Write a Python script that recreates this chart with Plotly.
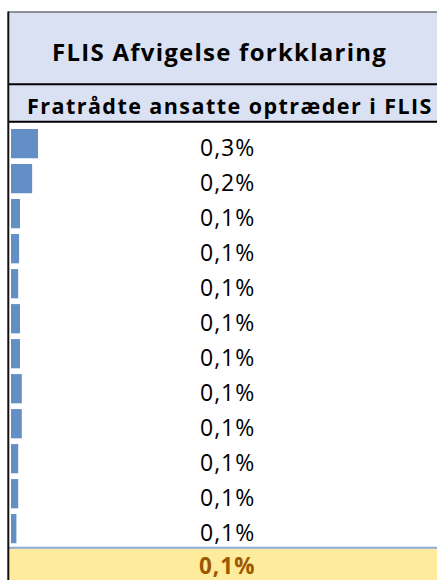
import plotly.graph_objects as go

# ---- data ----
title_text = "FLIS Afvigelse forkklaring"
column_header = "Fratrådte ansatte optræder i FLIS"
row_ids = ["R%02d" % i for i in range(1, 13)]
values_pct = [0.30, 0.235, 0.10, 0.09, 0.08, 0.10, 0.10, 0.12, 0.12, 0.08, 0.08, 0.06]
value_labels = ["0,3%", "0,2%", "0,1%", "0,1%", "0,1%", "0,1%", "0,1%", "0,1%", "0,1%", "0,1%", "0,1%", "0,1%"]
total_label = "0,1%"

W, H = 437, 580
def py(px):
    return 1 - px / H
def pxx(px):
    return px / W

FONT = "Open Sans"
def spaced(txt, ls, bold=False):
    s = '<span style="letter-spacing:%.2fpx">%s</span>' % (ls, txt)
    return "<b>%s</b>" % s if bold else s

fig = go.Figure()
fig.add_trace(go.Bar(
    x=values_pct, y=row_ids, orientation="h",
    marker=dict(color="#638EC6", line=dict(width=0)),
    hoverinfo="skip", showlegend=False,
))

shapes = [
    dict(type="rect", xref="paper", yref="paper", x0=pxx(8), x1=1.02, y0=py(84), y1=py(12),
         fillcolor="#D9E1F2", line=dict(width=0), layer="below"),
    dict(type="rect", xref="paper", yref="paper", x0=pxx(8), x1=1.02, y0=py(121.5), y1=py(84),
         fillcolor="#D9E1F2", line=dict(width=0), layer="below"),
    dict(type="rect", xref="paper", yref="paper", x0=pxx(8), x1=1.02, y0=-0.02, y1=py(548),
         fillcolor="#FFEB9C", line=dict(width=0), layer="below"),
    dict(type="line", xref="paper", yref="paper", x0=pxx(8), x1=1.02, y0=py(12), y1=py(12),
         line=dict(color="#333333", width=1.2)),
    dict(type="line", xref="paper", yref="paper", x0=pxx(8), x1=1.02, y0=py(84.3), y1=py(84.3),
         line=dict(color="#000000", width=2)),
    dict(type="line", xref="paper", yref="paper", x0=pxx(8), x1=1.02, y0=py(121.7), y1=py(121.7),
         line=dict(color="#000000", width=2)),
    dict(type="line", xref="paper", yref="paper", x0=pxx(8), x1=1.02, y0=py(547.7), y1=py(547.7),
         line=dict(color="#8EA9DB", width=2)),
    dict(type="line", xref="paper", yref="paper", x0=pxx(8.3), x1=pxx(8.3), y0=-0.02, y1=py(11.5),
         line=dict(color="#111111", width=2)),
]

annotations = [
    dict(text=spaced(title_text, 1.25, True), xref="paper", yref="paper", x=pxx(219.6), y=py(51),
         showarrow=False, xanchor="center", yanchor="middle",
         font=dict(family=FONT, size=24, color="#000000")),
    dict(text=spaced(column_header, 1.45, True), xref="paper", yref="paper", x=pxx(229.5), y=py(105.5),
         showarrow=False, xanchor="center", yanchor="middle",
         font=dict(family=FONT, size=21.5, color="#000000")),
    dict(text=spaced(total_label, 1.0, True), xref="paper", yref="paper", x=pxx(227), y=py(565),
         showarrow=False, xanchor="center", yanchor="middle",
         font=dict(family=FONT, size=22.5, color="#9C5700")),
]
for rid, lab in zip(row_ids, value_labels):
    annotations.append(dict(text=spaced(lab, 1.0), xref="paper", yref="y", x=pxx(227), y=rid,
                            yshift=-3.4, showarrow=False, xanchor="center", yanchor="middle",
                            font=dict(family=FONT, size=23, color="#000000")))

fig.update_layout(
    width=W, height=H,
    margin=dict(l=0, r=0, t=0, b=0),
    paper_bgcolor="white", plot_bgcolor="rgba(0,0,0,0)",
    bargap=0.165,
    xaxis=dict(domain=[pxx(11), 1], range=[0, 0.30 * (W - 11) / 27], visible=False, fixedrange=True),
    yaxis=dict(domain=[py(546.2), py(122.3)], type="category", autorange="reversed",
               visible=False, fixedrange=True),
    shapes=shapes, annotations=annotations,
)
fig.write_html("out.html", config={"displayModeBar": False},
               post_script="document.body.style.margin='0';document.body.style.overflow='hidden';")
